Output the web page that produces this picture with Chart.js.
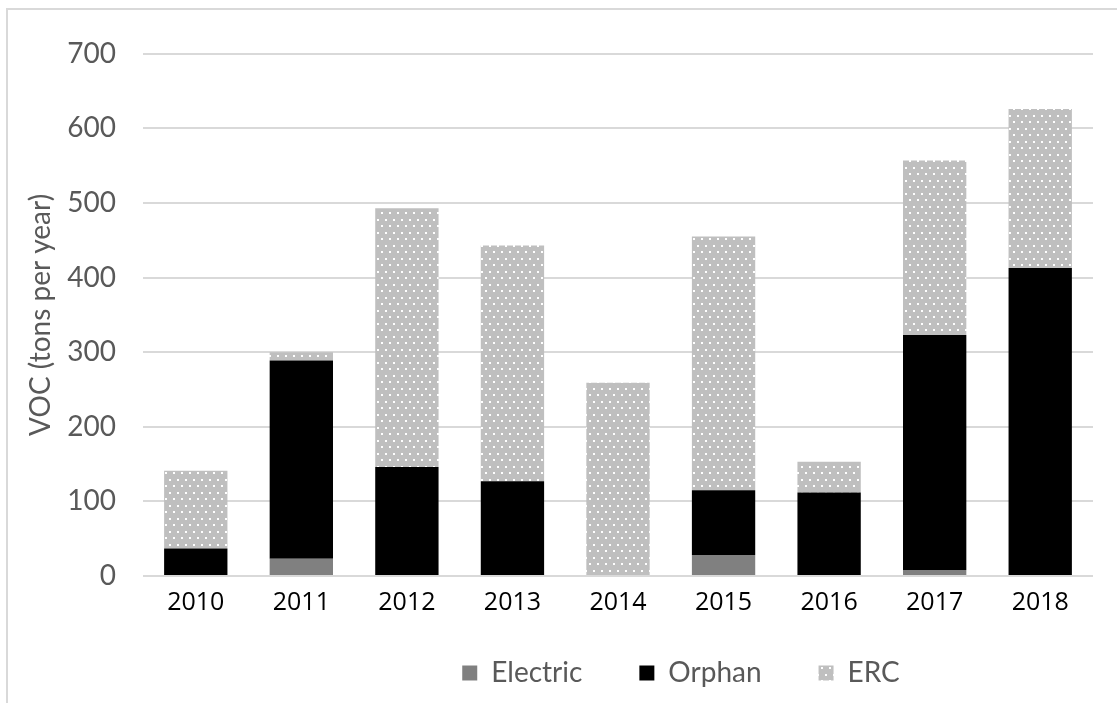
<!DOCTYPE html>
<html lang="en">
<head>
    <meta charset="UTF-8">
    <title>VOC by Year</title>
    <style>
        body {
            margin: 0;
            background: #ffffff;
            overflow: hidden;
        }

        .frame {
            position: absolute;
            left: 6px;
            top: 8px;
            width: 1346px;
            height: 706px;
            border-left: 2px solid #d9d9d9;
            border-top: 2px solid #d9d9d9;
        }
    </style>
</head>
<body>
    <div class="frame">
        <canvas id="vocChart"></canvas>
    </div>

    <script src="https://cdn.jsdelivr.net/npm/chart.js"></script>
    <script>
        const years = ['2010', '2011', '2012', '2013', '2014', '2015', '2016', '2017', '2018'];
        const electric = [0, 23, 0, 0, 0, 28, 0, 8, 0];
        const orphan = [37, 266, 146, 127, 0, 87, 112, 315, 413];
        const erc = [104, 11, 347, 316, 259, 340, 41, 234, 213];
        const yTicks = [0, 100, 200, 300, 400, 500, 600, 700];

        // light grey fill with white dots for ERC
        function dotPattern() {
            const tile = document.createElement('canvas');
            tile.width = 8;
            tile.height = 13;
            const c = tile.getContext('2d');
            c.fillStyle = '#bfbfbf';
            c.fillRect(0, 0, 8, 13);
            c.fillStyle = '#ffffff';
            c.fillRect(1, 1, 2, 2);
            c.fillRect(5, 7, 2, 2);
            return c.createPattern(tile, 'repeat');
        }

        // pull the legend row up closer to the year labels
        const legendLift = {
            id: 'legendLift',
            afterLayout(chart) {
                chart.legend.top -= 19;
                chart.legend.bottom -= 19;
            }
        };

        const ctx = document.getElementById('vocChart').getContext('2d');
        new Chart(ctx, {
            type: 'bar',
            data: {
                labels: years,
                datasets: [
                    { label: 'Electric', data: electric, backgroundColor: '#808080' },
                    { label: 'Orphan', data: orphan, backgroundColor: '#000000' },
                    { label: 'ERC', data: erc, backgroundColor: dotPattern() }
                ]
            },
            plugins: [legendLift],
            options: {
                responsive: true,
                maintainAspectRatio: false,
                animation: false,
                layout: { padding: { top: 42, left: 0, right: 0, bottom: 0 } },
                datasets: {
                    bar: { barPercentage: 0.6, categoryPercentage: 1, borderWidth: 0 }
                },
                plugins: {
                    tooltip: { enabled: false },
                    legend: {
                        position: 'bottom',
                        labels: {
                            boxWidth: 15,
                            boxHeight: 15,
                            padding: 57,
                            color: '#595959',
                            font: { family: 'Lato', size: 28 }
                        }
                    }
                },
                scales: {
                    x: {
                        stacked: true,
                        grid: { display: false, drawTicks: false },
                        border: { display: false },
                        ticks: {
                            color: '#000000',
                            padding: 12,
                            font: { family: 'Open Sans', size: 25 }
                        },
                        afterFit: s => { s.height = 45; }
                    },
                    y: {
                        stacked: true,
                        min: 0,
                        max: 700,
                        afterBuildTicks: s => { s.ticks = yTicks.map(v => ({ value: v })); },
                        grid: { color: '#d9d9d9', lineWidth: 2, drawTicks: false, tickLength: 0 },
                        border: { display: false },
                        ticks: {
                            color: '#595959',
                            padding: 27,
                            font: { family: 'Lato', size: 28 }
                        },
                        title: {
                            display: true,
                            text: 'VOC (tons per year)',
                            color: '#595959',
                            padding: { top: 16, bottom: 0 },
                            font: { family: 'Lato', size: 28 }
                        },
                        afterFit: s => { s.width = 135; }
                    },
                    // empty space to the right of the plot
                    pad: {
                        type: 'linear',
                        position: 'right',
                        display: true,
                        grid: { display: false },
                        border: { display: false },
                        ticks: { display: false },
                        afterFit: s => { s.width = 261; }
                    }
                }
            }
        });
    </script>
</body>
</html>
